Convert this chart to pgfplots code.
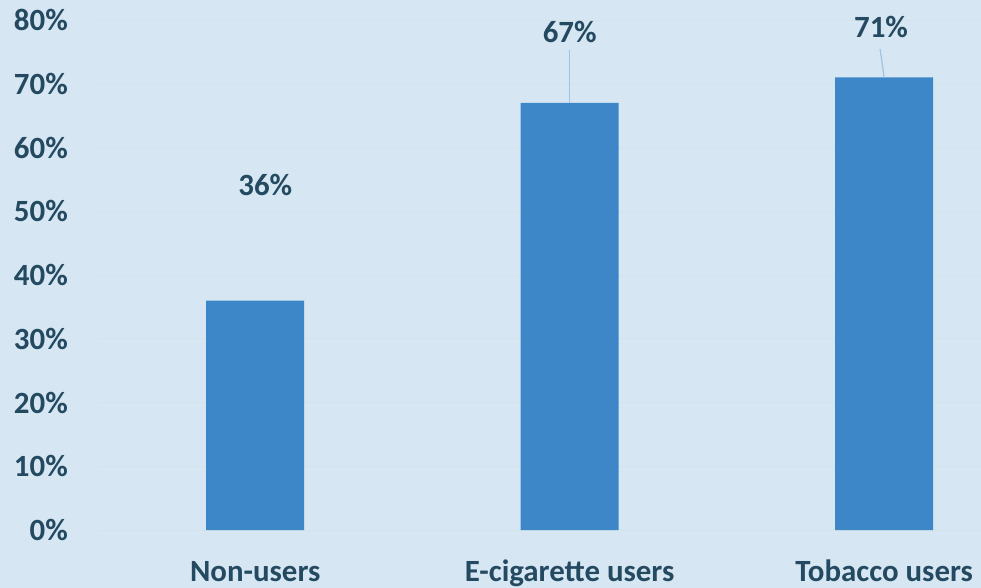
\documentclass[border=0pt]{standalone}
\usepackage{pgfplots}
\pgfplotsset{compat=1.18}
\usepackage{fontspec}
\setmainfont{Carlito}
\definecolor{bg}{RGB}{215,230,243}
\definecolor{barc}{RGB}{61,134,200}
\definecolor{txt}{RGB}{36,74,97}
\definecolor{lead}{RGB}{157,195,230}
\definecolor{gridc}{RGB}{210,228,234}
\begin{document}
\begin{tikzpicture}
\fill[bg] (0,0) rectangle (981bp,588bp);
\begin{axis}[
  at={(98bp,58bp)}, anchor=south west,
  scale only axis, width=883bp, height=530bp,
  xmin=-0.5, xmax=2.308, ymin=0, ymax=83.14,
  axis line style={draw=none}, major tick style={draw=none},
  ytick={0,10,...,80},
  yticklabels={0\%,10\%,20\%,30\%,40\%,50\%,60\%,70\%,80\%},
  xtick={0,1,2},
  xticklabels={Non-users,E-cigarette users,Tobacco users},
  ymajorgrids, major grid style={gridc, line width=0.8bp},
  ticklabel style={font=\fontsize{31}{37}\selectfont\bfseries, text=txt, inner sep=0pt},
  yticklabel style={anchor=east, xshift=-30bp},
  xticklabel style={anchor=base, yshift=-51bp},
  clip=false,
]
\addplot[ybar, bar width=98bp, fill=barc, draw=none] coordinates {(0,36) (1,67) (2,71)};
\draw[lead, line width=1.2bp] (axis cs:1,75.3) -- (axis cs:1,67);
\draw[lead, line width=1.2bp] (axis cs:1.987,75.45) -- (axis cs:2,71);
\node[text=txt, font=\fontsize{31}{37}\selectfont\bfseries] at (axis cs:0.032,54.1) {36\%};
\node[text=txt, font=\fontsize{31}{37}\selectfont\bfseries] at (axis cs:1,78.1) {67\%};
\node[text=txt, font=\fontsize{31}{37}\selectfont\bfseries] at (axis cs:1.99,78.9) {71\%};
\end{axis}
\pgfresetboundingbox
\useasboundingbox (0,0) rectangle (981bp,588bp);
\end{tikzpicture}
\end{document}
